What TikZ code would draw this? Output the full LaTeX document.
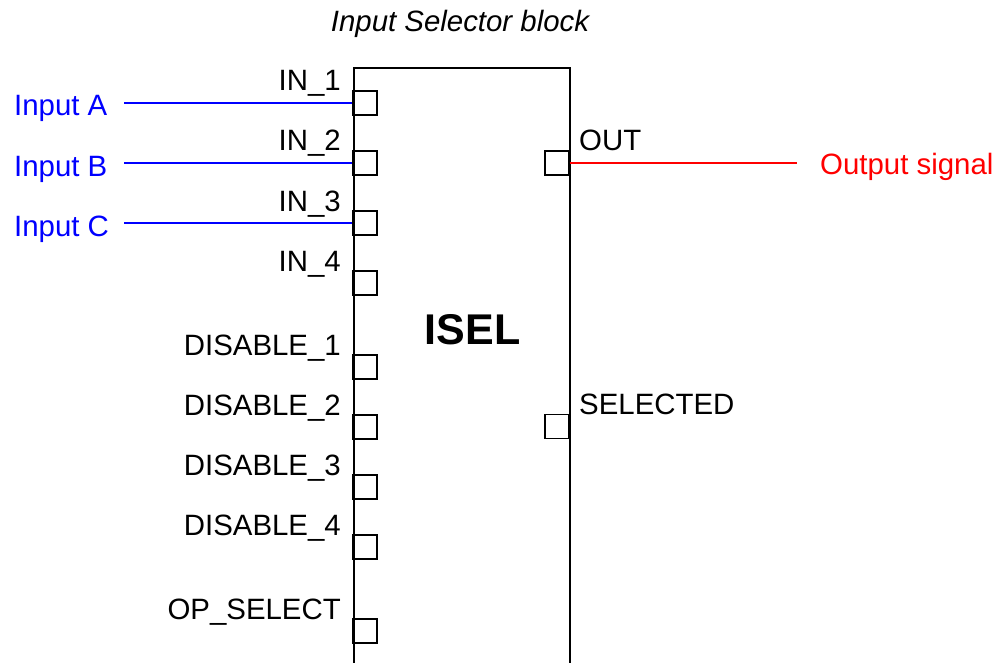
\documentclass[tikz,border=0pt]{standalone}
\usepackage{fontspec}
\setmainfont{Liberation Sans}
\begin{document}
\begin{tikzpicture}[x=1pt,y=-1pt,
  lbl/.style={font=\fontsize{29.4}{34}\selectfont, inner sep=0pt},
  pname/.style={lbl, anchor=base east},
  pnameR/.style={lbl, anchor=base west},
  port/.style={draw, line width=1.3pt, minimum width=24pt, minimum height=24pt, inner sep=0pt},
  blk/.style={draw, line width=1.7pt, minimum width=216pt, minimum height=700pt, inner sep=0pt, anchor=north west},
  insig/.style={draw=blue, line width=1.2pt},
  outsig/.style={draw=red, line width=1.2pt}]
\useasboundingbox (0,0) rectangle (1000,663);
\clip (0,0) rectangle (1000,663);
% title
\node[lbl, font=\fontsize{29.4}{34}\selectfont\itshape, anchor=base] (title) at (460,32) {Input Selector block};
% block
\node[blk] (block) at (353,67) {};
\node[lbl, font=\fontsize{43}{50}\selectfont\bfseries, anchor=base] (isel) at (472.5,344) {ISEL};
% left ports
\node[port] (p1) at (365,103) {};
\node[port] (p2) at (365,163) {};
\node[port] (p3) at (365,223) {};
\node[port] (p4) at (365,283) {};
\node[port] (d1) at (365,367) {};
\node[port] (d2) at (365,427) {};
\node[port] (d3) at (365,487) {};
\node[port] (d4) at (365,547) {};
\node[port] (op) at (365,631) {};
% right ports
\node[port] (po) at (557,163) {};
\node[port] (ps) at (557,426.5) {};
% port labels
\node[pname] (l1) at (341,91) {IN\_1};
\node[pname] (l2) at (341,151) {IN\_2};
\node[pname] (l3) at (341,211) {IN\_3};
\node[pname] (l4) at (341,271) {IN\_4};
\node[pname] (ld1) at (341,355) {DISABLE\_1};
\node[pname] (ld2) at (341,415) {DISABLE\_2};
\node[pname] (ld3) at (341,475) {DISABLE\_3};
\node[pname] (ld4) at (341,535) {DISABLE\_4};
\node[pname] (lop) at (341,619) {OP\_SELECT};
\node[pnameR] (lo) at (579,151) {OUT};
\node[pnameR] (ls) at (579,414) {SELECTED};
% signals
\node[lbl, text=blue, anchor=base west] (ia) at (14,116) {Input A};
\node[lbl, text=blue, anchor=base west] (ib) at (14,176) {Input B};
\node[lbl, text=blue, anchor=base west] (ic) at (14,236) {Input C};
\node[lbl, text=red, anchor=base west] (os) at (820,175) {Output signal};
\coordinate (a1) at (124,103);
\coordinate (b1) at (124,163);
\coordinate (c1) at (124,223);
\coordinate (o1) at (797,163);
\draw[insig] (a1) -- (p1.west);
\draw[insig] (b1) -- (p2.west);
\draw[insig] (c1) -- (p3.west);
\draw[outsig] (po.east) -- (o1);
\end{tikzpicture}
\end{document}
